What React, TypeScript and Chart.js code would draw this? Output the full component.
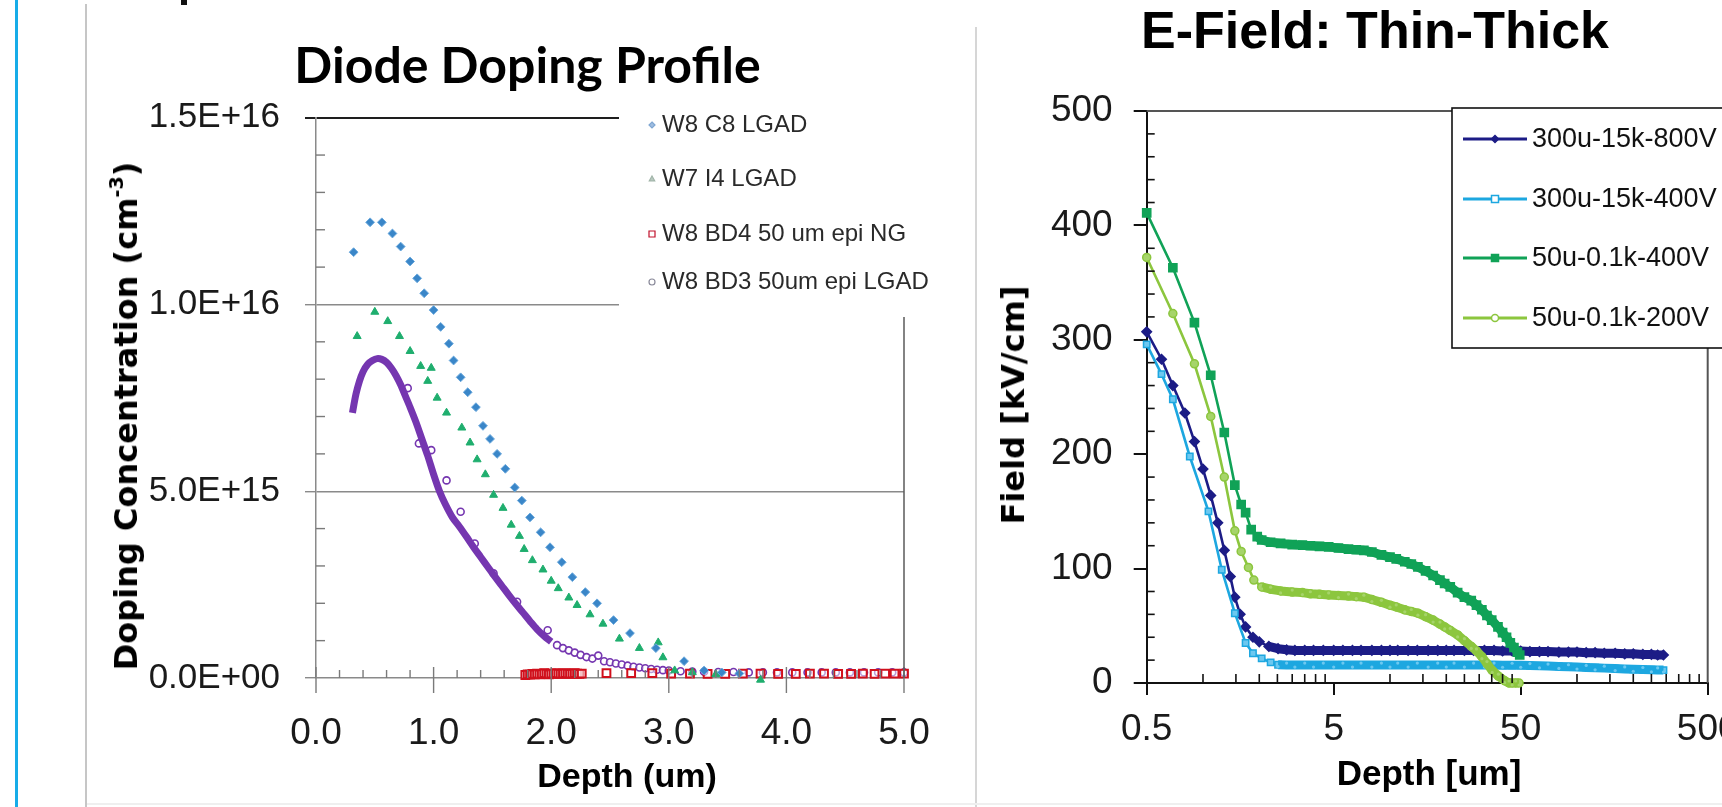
import React, { useEffect, useRef } from 'react';
import { Chart, registerables } from 'chart.js';

Chart.register(...registerables);

const PAGE_W = 1722;
const PAGE_H = 807;
const SANS = '"Liberation Sans", Arial, sans-serif';
const DEJAVU = '"DejaVu Sans", Verdana, sans-serif';
const LATO = 'Lato, "Open Sans", sans-serif';

// ================= Left chart: Diode Doping Profile =================
const dopingTitle = 'Diode Doping Profile';
const dopingXTitle = 'Depth (um)';
const dopingXTicks = [0, 1, 2, 3, 4, 5];
const dopingYTicks = [0, 5e15, 1e16, 1.5e16];
const dopingNames = ['W8 C8 LGAD', 'W7 I4 LGAD', 'W8 BD4 50 um epi NG', 'W8 BD3 50um epi LGAD'];

const c8Depth = [0.32, 0.46, 0.56, 0.65, 0.72, 0.8, 0.86, 0.92, 1.0, 1.06, 1.13, 1.17, 1.23, 1.29, 1.36, 1.42, 1.48, 1.54, 1.61, 1.69, 1.75, 1.82, 1.91, 1.99, 2.09, 2.18, 2.29, 2.39, 2.53, 2.67, 2.89, 3.13, 3.3, 3.45, 3.6];
const c8Conc = [11.4e15, 12.2e15, 12.2e15, 11.9e15, 11.55e15, 11.15e15, 10.7e15, 10.3e15, 9.85e15, 9.4e15, 8.95e15, 8.5e15, 8.05e15, 7.65e15, 7.25e15, 6.75e15, 6.4e15, 6.0e15, 5.6e15, 5.1e15, 4.75e15, 4.3e15, 3.9e15, 3.5e15, 3.1e15, 2.7e15, 2.3e15, 2.0e15, 1.55e15, 1.2e15, 0.8e15, 0.45e15, 0.2e15, 0.15e15, 0.12e15];

const i4Depth = [0.35, 0.5, 0.61, 0.71, 0.8, 0.89, 0.95, 0.98, 1.03, 1.11, 1.24, 1.31, 1.37, 1.44, 1.51, 1.59, 1.66, 1.73, 1.77, 1.84, 1.93, 2.0, 2.06, 2.15, 2.22, 2.33, 2.44, 2.58, 2.75, 2.91, 2.95, 3.05, 3.2, 3.4, 3.78];
const i4Conc = [9.15e15, 9.8e15, 9.55e15, 9.15e15, 8.75e15, 8.35e15, 7.95e15, 8.3e15, 7.5e15, 7.1e15, 6.7e15, 6.3e15, 5.85e15, 5.45e15, 4.9e15, 4.55e15, 4.1e15, 3.8e15, 3.45e15, 3.15e15, 2.9e15, 2.6e15, 2.4e15, 2.15e15, 1.95e15, 1.7e15, 1.45e15, 1.05e15, 0.8e15, 0.95e15, 0.55e15, 0.2e15, 0.15e15, 0.1e15, -0.05e15];

const ngDepth = [1.78, 1.8, 1.82, 1.84, 1.86, 1.88, 1.9, 1.92, 1.94, 1.96, 1.98, 2.0, 2.02, 2.04, 2.06, 2.08, 2.1, 2.12, 2.14, 2.16, 2.18, 2.2, 2.22, 2.24, 2.26, 2.47, 2.68, 2.86, 3.02, 3.18, 3.33, 3.48, 3.63, 3.78, 3.93, 4.08, 4.2, 4.32, 4.44, 4.55, 4.65, 4.75, 4.84, 4.92, 5.0];
const ngConc = [0.08e15, 0.1e15, 0.09e15, 0.11e15, 0.1e15, 0.12e15, 0.1e15, 0.11e15, 0.13e15, 0.12e15, 0.1e15, 0.12e15, 0.11e15, 0.13e15, 0.12e15, 0.11e15, 0.12e15, 0.13e15, 0.12e15, 0.11e15, 0.12e15, 0.13e15, 0.12e15, 0.11e15, 0.12e15, 0.13e15, 0.13e15, 0.13e15, 0.12e15, 0.12e15, 0.11e15, 0.11e15, 0.12e15, 0.12e15, 0.11e15, 0.11e15, 0.12e15, 0.12e15, 0.11e15, 0.11e15, 0.12e15, 0.11e15, 0.12e15, 0.12e15, 0.12e15];

const bd3CurveDepth = [0.31, 0.34, 0.37, 0.4, 0.44, 0.48, 0.52, 0.56, 0.6, 0.64, 0.68, 0.72, 0.76, 0.8, 0.85, 0.9, 0.95, 1.0, 1.05, 1.1, 1.16, 1.22, 1.28, 1.34, 1.4, 1.46, 1.52, 1.58, 1.64, 1.7, 1.76, 1.82, 1.88, 1.94, 2.0];
const bd3CurveConc = [7.1e15, 7.6e15, 7.95e15, 8.2e15, 8.4e15, 8.5e15, 8.55e15, 8.53e15, 8.45e15, 8.3e15, 8.1e15, 7.85e15, 7.55e15, 7.25e15, 6.85e15, 6.4e15, 5.95e15, 5.45e15, 5.0e15, 4.65e15, 4.3e15, 4.05e15, 3.78e15, 3.5e15, 3.24e15, 2.98e15, 2.72e15, 2.47e15, 2.22e15, 1.98e15, 1.75e15, 1.52e15, 1.3e15, 1.12e15, 0.97e15];

const bd3PointDepth = [0.78, 0.875, 0.98, 1.11, 1.23, 1.35, 1.51, 1.71, 1.97, 2.05, 2.1, 2.15, 2.2, 2.25, 2.3, 2.35, 2.4, 2.45, 2.5, 2.55, 2.6, 2.65, 2.7, 2.75, 2.8, 2.85, 2.9, 2.95, 3.0, 3.1, 3.2, 3.3, 3.42, 3.55, 3.68, 3.8, 3.92, 4.05, 4.18, 4.3, 4.42, 4.54, 4.66, 4.78, 4.9, 5.0];
const bd3PointConc = [7.76e15, 6.28e15, 6.1e15, 5.29e15, 4.45e15, 3.6e15, 2.8e15, 2.04e15, 1.28e15, 0.88e15, 0.8e15, 0.74e15, 0.68e15, 0.62e15, 0.56e15, 0.52e15, 0.6e15, 0.45e15, 0.42e15, 0.39e15, 0.36e15, 0.33e15, 0.3e15, 0.28e15, 0.26e15, 0.24e15, 0.22e15, 0.21e15, 0.2e15, 0.18e15, 0.17e15, 0.17e15, 0.16e15, 0.16e15, 0.15e15, 0.15e15, 0.15e15, 0.15e15, 0.15e15, 0.15e15, 0.15e15, 0.15e15, 0.15e15, 0.15e15, 0.15e15, 0.15e15];

// ================= Right chart: E-Field Thin-Thick =================
const fieldTitle = 'E-Field: Thin-Thick';
const fieldXTitle = 'Depth [um]';
const fieldYTitle = 'Field [kV/cm]';
const fieldXTicks = [0.5, 5, 50, 500];
const fieldYTicks = [0, 100, 200, 300, 400, 500];
const fieldNames = ['300u-15k-800V', '300u-15k-400V', '50u-0.1k-400V', '50u-0.1k-200V'];

const e800Depth = [0.5, 0.6, 0.69, 0.8, 0.9, 1.0, 1.1, 1.2, 1.3, 1.4, 1.48, 1.58, 1.69, 1.85, 2.0, 2.25, 2.52, 2.8, 3.1, 3.5, 3.9, 4.4, 5, 5.6, 6.3, 7, 8, 9, 10, 11, 12.5, 14, 16, 18, 20, 22, 25, 28, 32, 36, 40, 45, 50, 56, 63, 70, 80, 90, 100, 112, 125, 140, 160, 180, 200, 225, 250, 270, 290];
const e800Field = [307, 283, 260, 236, 211, 187, 164, 140, 116, 93, 75, 60, 49, 40, 36, 32, 30, 29, 28.5, 28.5, 28.5, 28.5, 28.5, 28.5, 28.5, 28.5, 28.5, 28.5, 28.5, 28.5, 28.5, 28.5, 28.5, 28.5, 28.5, 28.5, 28.5, 28.5, 28.5, 28.5, 28, 28, 28, 27.5, 27.5, 27.5, 27, 27, 27, 26.5, 26.5, 26, 26, 25.5, 25.5, 25, 25, 24.5, 24.5];

const e400Depth = [0.5, 0.6, 0.69, 0.85, 1.07, 1.26, 1.48, 1.69, 1.85, 2.06, 2.3, 2.52, 2.8, 3.1, 3.5, 3.9, 4.4, 5, 5.6, 6.3, 7, 8, 9, 10, 11, 12.5, 14, 16, 18, 20, 22, 25, 28, 32, 36, 40, 45, 50, 56, 63, 70, 80, 90, 100, 112, 125, 140, 160, 180, 200, 225, 250, 270, 290];
const e400Field = [296, 270, 248, 198, 150, 99, 61, 35, 26, 21.5, 18, 16, 15.7, 15.7, 15.7, 15.7, 15.7, 15.7, 15.7, 15.7, 15.7, 15.7, 15.7, 15.7, 15.7, 15.7, 15.7, 15.7, 15.7, 15.7, 15.7, 15.7, 15.7, 15.7, 15.7, 15.5, 15.5, 15.5, 15.2, 15, 14.8, 14.5, 14.2, 14, 13.6, 13.3, 13, 12.6, 12.3, 12, 11.8, 11.6, 11.4, 11.3];

const thin400Depth = [0.5, 0.69, 0.9, 1.1, 1.3, 1.48, 1.6, 1.69, 1.81, 1.95, 2.06, 2.3, 2.6, 3, 3.4, 3.75, 4.2, 4.7, 5.3, 6, 6.6, 7.25, 8, 9, 10, 10.8, 12, 13, 14.1, 15.5, 17, 18.5, 19.6, 21, 23, 25, 27.2, 29, 31, 33, 35, 37.8, 40, 42, 44, 46, 48, 49.4];
const thin400Field = [411, 363, 315, 269, 219, 173, 156, 149, 134, 128, 125, 123, 122, 121, 120.5, 120, 119.5, 119, 118, 117, 116.5, 116, 114.5, 112, 110, 108.5, 106, 104, 101.5, 98, 94, 90, 87, 84, 79, 75, 72, 68, 64, 59, 55, 49, 44, 40, 35, 31, 27, 24.5];

const thin200Depth = [0.5, 0.69, 0.9, 1.1, 1.3, 1.48, 1.6, 1.75, 1.87, 2.06, 2.3, 2.6, 3, 3.4, 3.75, 4.2, 4.7, 5.3, 6, 6.6, 7.25, 8, 9, 10, 10.8, 12, 13, 14.1, 15.5, 17, 18.5, 19.6, 21, 23, 25, 27.2, 29, 31, 33, 35.2, 38, 41, 43.3, 45, 47, 49];
const thin200Field = [372, 323, 279, 233, 180, 133, 115, 101, 90, 84, 82, 80.5, 79.5, 79, 78, 77.5, 77, 76.5, 76, 75.5, 75, 73, 70.5, 68, 66.5, 64, 62.5, 61, 58, 55, 51.5, 49, 46, 42, 37, 32, 28, 23, 17, 11, 6, 2, 0, 0, 0, 0];

// depth beyond which the dense measurement points merge into a thick band
const fieldBandStart = [2.2, 2.5, 1.9, 1.9];

// ================= helpers =================
const zip = (xs: number[], ys: number[]) => xs.map((x, i) => ({ x, y: ys[i] }));

function sciLabel(v: number): string {
  if (v === 0) return '0.0E+00';
  const e = Math.floor(Math.log10(v) + 1e-9);
  const m = v / Math.pow(10, e);
  return m.toFixed(1) + 'E+' + String(e).padStart(2, '0');
}

function drawMarker(ctx: CanvasRenderingContext2D, shape: string, x: number, y: number, r: number, fill: string | null, stroke: string, lw: number) {
  ctx.beginPath();
  if (shape === 'diamond') {
    ctx.moveTo(x, y - r); ctx.lineTo(x + r, y); ctx.lineTo(x, y + r); ctx.lineTo(x - r, y); ctx.closePath();
  } else if (shape === 'triangle') {
    ctx.moveTo(x, y - r); ctx.lineTo(x + r * 0.9, y + r * 0.6); ctx.lineTo(x - r * 0.9, y + r * 0.6); ctx.closePath();
  } else if (shape === 'square') {
    ctx.rect(x - r, y - r, 2 * r, 2 * r);
  } else {
    ctx.arc(x, y, r, 0, Math.PI * 2);
  }
  if (fill) { ctx.fillStyle = fill; ctx.fill(); }
  ctx.strokeStyle = stroke; ctx.lineWidth = lw; ctx.stroke();
}

const dopingLegendStyle = [
  { shape: 'diamond', fill: '#9fbde0', stroke: '#7fa6d2' },
  { shape: 'triangle', fill: '#b9c9c0', stroke: '#a0b4a8' },
  { shape: 'square', fill: '#ffffff', stroke: '#c0102a' },
  { shape: 'circle', fill: '#ffffff', stroke: '#8a8a9a' },
];

const dopingDecor = {
  id: 'dopingDecor',
  afterDraw(chart: any) {
    const { ctx, chartArea: a, scales } = chart;
    const x = scales.x, y = scales.y;
    const line = (x1: number, y1: number, x2: number, y2: number) => { ctx.beginPath(); ctx.moveTo(x1, y1); ctx.lineTo(x2, y2); ctx.stroke(); };
    ctx.save();
    ctx.strokeStyle = '#7a7a7a'; ctx.lineWidth = 1.4;
    for (let i = 0; i <= 25; i++) {
      const px = x.getPixelForValue(i * 0.2);
      if (i % 5 === 0) line(px, a.bottom - 11, px, a.bottom + 15);
      else line(px, a.bottom - 8, px, a.bottom);
    }
    for (let i = 1; i < 15; i++) {
      if (i % 5 === 0) continue;
      const py = y.getPixelForValue(i * 1e15);
      line(a.left, py, a.left + 9, py);
    }
    ctx.strokeStyle = '#5a5a5a'; ctx.lineWidth = 1.5;
    line(a.right, 317, a.right, a.bottom);
    // legend
    ctx.fillStyle = '#ffffff';
    ctx.fillRect(619, 98, 300, 219);
    const rows = [125, 179, 234, 282];
    ctx.font = `24px ${SANS}`;
    ctx.textBaseline = 'middle';
    ctx.textAlign = 'left';
    dopingNames.forEach((name, i) => {
      const st = dopingLegendStyle[i];
      drawMarker(ctx, st.shape, 652, rows[i], 3, st.fill, st.stroke, 1.2);
      ctx.fillStyle = '#2a2a2a';
      ctx.fillText(name, 662, rows[i]);
    });
    ctx.restore();
  },
};

const fieldLegendStyle = [
  { color: '#1c1c86', shape: 'diamond', fill: '#1c1c86' },
  { color: '#1da7e0', shape: 'square', fill: '#ffffff' },
  { color: '#10a257', shape: 'square', fill: '#10a257' },
  { color: '#8cc63e', shape: 'circle', fill: '#ffffff' },
];

// thick band where the measured points are packed densely (drawn after each dataset)
const fieldBands = {
  id: 'fieldBands',
  afterDatasetDraw(chart: any, args: any) {
    const i = args.index;
    const start = fieldBandStart[i];
    const ds = chart.data.datasets[i];
    const meta = chart.getDatasetMeta(i);
    const pts = meta.data;
    const ctx = chart.ctx;
    ctx.save();
    ctx.strokeStyle = ds.borderColor;
    ctx.lineWidth = 9;
    ctx.lineJoin = 'round';
    ctx.lineCap = 'butt';
    ctx.beginPath();
    let started = false;
    for (let j = 0; j < pts.length; j++) {
      if (ds.data[j].x < start) continue;
      const p = pts[j];
      if (!started) { ctx.moveTo(p.x, p.y); started = true; } else ctx.lineTo(p.x, p.y);
    }
    ctx.stroke();
    ctx.fillStyle = ds.pointBackgroundColor;
    for (let j = 0; j < pts.length; j++) {
      if (ds.data[j].x < start) continue;
      const p = pts[j];
      ctx.beginPath();
      ctx.arc(p.x, p.y + ((j % 2) ? 2 : -2), 1.6, 0, Math.PI * 2);
      ctx.fill();
    }
    ctx.restore();
  },
};

const fieldDecor = {
  id: 'fieldDecor',
  afterDraw(chart: any) {
    const { ctx, chartArea: a, scales } = chart;
    const x = scales.x, y = scales.y;
    const line = (x1: number, y1: number, x2: number, y2: number) => { ctx.beginPath(); ctx.moveTo(x1, y1); ctx.lineTo(x2, y2); ctx.stroke(); };
    ctx.save();
    ctx.strokeStyle = '#111'; ctx.lineWidth = 1.6;
    for (let v = 20; v < 500; v += 20) {
      if (v % 100 === 0) continue;
      const py = y.getPixelForValue(v);
      line(a.left, py, a.left + 8, py);
    }
    for (const base of [0.5, 5, 50]) {
      for (let k = 2; k <= 9; k++) {
        const px = x.getPixelForValue(base * k);
        line(px, a.bottom, px, a.bottom - 9);
      }
    }
    ctx.strokeStyle = '#555'; ctx.lineWidth = 2;
    line(a.left, a.top, 1452, a.top);
    line(a.right, 348, a.right, a.bottom);
    // legend
    ctx.fillStyle = '#ffffff';
    ctx.fillRect(1452, 108, 400, 240);
    ctx.strokeStyle = '#111'; ctx.lineWidth = 1.6;
    ctx.strokeRect(1452, 108, 400, 240);
    const rows = [139, 199, 258, 318];
    ctx.font = `27px ${SANS}`;
    ctx.textBaseline = 'middle';
    ctx.textAlign = 'left';
    fieldNames.forEach((name, i) => {
      const st = fieldLegendStyle[i];
      ctx.strokeStyle = st.color; ctx.lineWidth = 3;
      line(1463, rows[i], 1527, rows[i]);
      drawMarker(ctx, st.shape, 1495, rows[i], 3.5, st.fill, st.color, 1.5);
      ctx.fillStyle = '#111';
      ctx.fillText(name, 1532, rows[i] + 1);
    });
    ctx.restore();
  },
};

function leftConfig(): any {
  return {
    type: 'scatter',
    data: {
      datasets: [
        { label: dopingNames[0], data: zip(c8Depth, c8Conc), pointStyle: 'rectRot', pointRadius: 4.4, backgroundColor: '#3a86c8', borderColor: '#6aa8dc', borderWidth: 1, clip: false },
        { label: dopingNames[1], data: zip(i4Depth, i4Conc), pointStyle: 'triangle', pointRadius: 4.6, backgroundColor: '#1fae6e', borderColor: '#1fae6e', borderWidth: 1, clip: false },
        { label: dopingNames[2], data: zip(ngDepth, ngConc), pointStyle: 'rect', pointRadius: 5.5, backgroundColor: 'rgba(255,255,255,0.5)', borderColor: '#d0101c', borderWidth: 2, clip: false },
        { label: dopingNames[3], data: zip(bd3CurveDepth, bd3CurveConc), showLine: true, borderColor: '#7536b0', borderWidth: 7, pointRadius: 0, tension: 0.3, clip: false },
        { label: dopingNames[3] + ' (points)', data: zip(bd3PointDepth, bd3PointConc), pointStyle: 'circle', pointRadius: 3.5, backgroundColor: 'rgba(255,255,255,0.6)', borderColor: '#7536b0', borderWidth: 1.6, clip: false },
      ],
    },
    options: {
      responsive: false,
      animation: false,
      devicePixelRatio: 1,
      events: [],
      layout: { padding: { left: 0, top: 117.7, right: PAGE_W - 904, bottom: 0 } },
      plugins: { legend: { display: false }, tooltip: { enabled: false }, title: { display: false } },
      scales: {
        x: {
          type: 'linear', min: 0, max: 5,
          afterFit: (s: any) => { s.height = PAGE_H - 678; },
          afterBuildTicks: (s: any) => { s.ticks = dopingXTicks.map((value) => ({ value })); },
          ticks: { autoSkip: false, maxRotation: 0, padding: 26, color: '#1a1a1a', font: { family: SANS, size: 37 }, callback: (v: any) => Number(v).toFixed(1) },
          grid: { display: false },
          border: { display: false },
        },
        y: {
          type: 'linear', min: 0, max: 1.5e16,
          afterFit: (s: any) => { s.width = 316; },
          afterBuildTicks: (s: any) => { s.ticks = dopingYTicks.map((value) => ({ value })); },
          ticks: { padding: 25, color: '#1a1a1a', font: { family: SANS, size: 35 }, callback: (v: any) => sciLabel(Number(v)) },
          grid: {
            drawOnChartArea: true, drawTicks: true, tickLength: 11,
            color: (c: any) => (c.tick && c.tick.value === 1.5e16 ? '#1e1e1e' : '#8a8a8a'),
            lineWidth: (c: any) => (c.tick && c.tick.value === 1.5e16 ? 2 : 1.4),
          },
          border: { display: true, color: '#8a8a8a', width: 1.5 },
        },
      },
    },
    plugins: [dopingDecor],
  };
}

function rightConfig(): any {
  const common = { showLine: true, borderWidth: 2.6, tension: 0, clip: false };
  return {
    type: 'scatter',
    data: {
      datasets: [
        { ...common, label: fieldNames[0], data: zip(e800Depth, e800Field), borderColor: '#1c1c86', pointStyle: 'rectRot', pointRadius: 4, pointBackgroundColor: '#1c1c86', pointBorderColor: '#1c1c86', order: 3 },
        { ...common, label: fieldNames[1], data: zip(e400Depth, e400Field), borderColor: '#1da7e0', pointStyle: 'rect', pointRadius: 4.5, pointBackgroundColor: '#6cc8f0', pointBorderColor: '#1da7e0', pointBorderWidth: 1.5, order: 2 },
        { ...common, label: fieldNames[2], data: zip(thin400Depth, thin400Field), borderColor: '#10a257', pointStyle: 'rect', pointRadius: 5, pointBackgroundColor: '#10a257', pointBorderColor: '#10a257', order: 1 },
        { ...common, label: fieldNames[3], data: zip(thin200Depth, thin200Field), borderColor: '#8cc63e', pointStyle: 'circle', pointRadius: 4, pointBackgroundColor: '#a6d46a', pointBorderColor: '#8cc63e', pointBorderWidth: 1.5, order: 0 },
      ],
    },
    options: {
      responsive: false,
      animation: false,
      devicePixelRatio: 1,
      events: [],
      layout: { padding: { left: 0, top: 111, right: 1800 - 1707.7, bottom: 0 } },
      plugins: { legend: { display: false }, tooltip: { enabled: false }, title: { display: false } },
      scales: {
        x: {
          type: 'logarithmic', min: 0.5, max: 500,
          afterFit: (s: any) => { s.height = PAGE_H - 683; },
          afterBuildTicks: (s: any) => { s.ticks = fieldXTicks.map((value) => ({ value })); },
          ticks: { autoSkip: false, maxRotation: 0, padding: 13, color: '#1a1a1a', font: { family: SANS, size: 37 }, callback: (v: any) => String(v) },
          grid: { drawOnChartArea: false, drawTicks: true, tickLength: 12, color: '#111', lineWidth: 2 },
          border: { display: true, color: '#111', width: 2 },
        },
        y: {
          type: 'linear', min: 0, max: 500,
          afterFit: (s: any) => { s.width = 1146.7; },
          afterBuildTicks: (s: any) => { s.ticks = fieldYTicks.map((value) => ({ value })); },
          ticks: { padding: 21, color: '#1a1a1a', font: { family: SANS, size: 37 }, callback: (v: any) => String(v) },
          grid: { drawOnChartArea: false, drawTicks: true, tickLength: 13, color: '#111', lineWidth: 2 },
          border: { display: true, color: '#111', width: 2 },
        },
      },
    },
    plugins: [fieldBands, fieldDecor],
  };
}

type HProps = { x: number; base: number; size: number; fam: string; asc: number; desc: number; children: React.ReactNode };
function HText({ x, base, size, fam, asc, desc, children }: HProps) {
  const top = base - (size * (1 + asc - desc)) / 2;
  return (
    <div style={{ position: 'absolute', left: x, top, transform: 'translateX(-50%)', fontFamily: fam, fontSize: size, fontWeight: 700, lineHeight: `${size}px`, whiteSpace: 'nowrap', color: '#000' }}>
      {children}
    </div>
  );
}

type VProps = { cx: number; cy: number; size: number; children: React.ReactNode };
function VText({ cx, cy, size, children }: VProps) {
  return (
    <div style={{ position: 'absolute', left: cx, top: cy, transform: 'translate(-50%, -50%) rotate(-90deg)', fontFamily: DEJAVU, fontSize: size, fontWeight: 700, lineHeight: `${size}px`, whiteSpace: 'nowrap', color: '#000' }}>
      {children}
    </div>
  );
}

export default function App() {
  const leftRef = useRef<HTMLCanvasElement>(null);
  const rightRef = useRef<HTMLCanvasElement>(null);

  useEffect(() => {
    document.body.style.margin = '0';
    document.body.style.overflow = 'hidden';
    const c1 = new Chart(leftRef.current as HTMLCanvasElement, leftConfig());
    const c2 = new Chart(rightRef.current as HTMLCanvasElement, rightConfig());
    return () => {
      c1.destroy();
      c2.destroy();
    };
  }, []);

  return (
    <div style={{ position: 'fixed', left: 0, top: 0, width: PAGE_W, height: PAGE_H, overflow: 'hidden', background: '#ffffff' }}>
      <div style={{ position: 'absolute', left: 15, top: 0, width: 3, height: PAGE_H, background: '#17ace8' }} />
      <div style={{ position: 'absolute', left: 181, top: 0, width: 6, height: 5, background: '#111' }} />
      <div style={{ position: 'absolute', left: 85, top: 4, width: 2, height: PAGE_H - 4, background: '#c6c6c6' }} />
      <div style={{ position: 'absolute', left: 975, top: 27, width: 2, height: PAGE_H - 27, background: '#d6d6d6' }} />
      <div style={{ position: 'absolute', left: 87, top: 803, width: PAGE_W - 87, height: 2, background: '#efefef' }} />
      <canvas ref={leftRef} width={PAGE_W} height={PAGE_H} style={{ position: 'absolute', left: 0, top: 0, width: PAGE_W, height: PAGE_H }} />
      <canvas ref={rightRef} width={1800} height={PAGE_H} style={{ position: 'absolute', left: 0, top: 0, width: 1800, height: PAGE_H }} />
      <HText x={527.5} base={83} size={50} fam={LATO} asc={0.987} desc={0.213}>{dopingTitle}</HText>
      <HText x={1375} base={48} size={52} fam={SANS} asc={0.905} desc={0.212}>{fieldTitle}</HText>
      <HText x={627} base={787} size={34} fam={SANS} asc={0.905} desc={0.212}>{dopingXTitle}</HText>
      <HText x={1429} base={785} size={35} fam={SANS} asc={0.905} desc={0.212}>{fieldXTitle}</HText>
      <VText cx={126} cy={415.5} size={32}>
        Doping Concentration (cm<sup style={{ fontSize: '0.6em', verticalAlign: '0.75em', lineHeight: 0 }}>-3</sup>)
      </VText>
      <VText cx={1013} cy={404.5} size={32}>{fieldYTitle}</VText>
    </div>
  );
}
